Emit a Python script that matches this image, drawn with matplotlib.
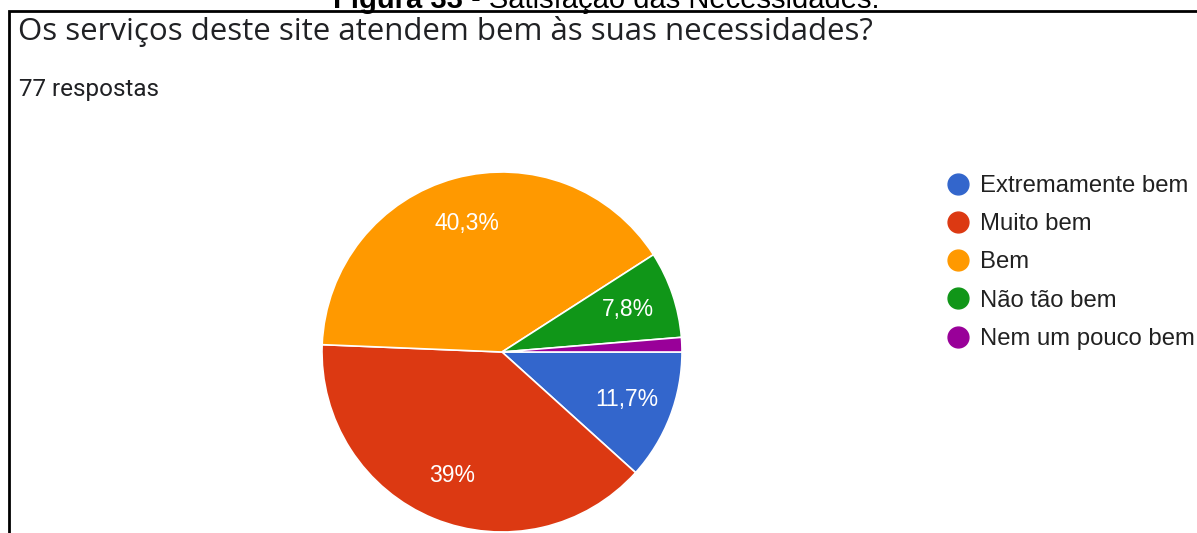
import matplotlib
matplotlib.use("Agg")
import matplotlib.pyplot as plt
from matplotlib.lines import Line2D
from matplotlib.patches import Rectangle

# data
categories = ["Extremamente bem", "Muito bem", "Bem", "Não tão bem", "Nem um pouco bem"]
counts = [9, 30, 31, 6, 1]
colors = ["#3366cc", "#dc3912", "#ff9900", "#109618", "#990099"]
title = "Os serviços deste site atendem bem às suas necessidades?"
subtitle = "77 respostas"
caption_bold = "Figura 33"
caption_rest = " - Satisfação das Necessidades."

W, H = 1197, 533
fig = plt.figure(figsize=(W / 100, H / 100), dpi=100)
fig.patch.set_facecolor("white")


def fmt_pct(p):
    if p < 5:
        return ""
    s = f"{p:.1f}".rstrip("0").rstrip(".")
    return s.replace(".", ",") + "%"


# pie axes: centre (502, 352) px, radius 180 px
cx, cy, r = 502, 352, 180
ax = fig.add_axes([(cx - r) / W, (H - cy - r) / H, 2 * r / W, 2 * r / H])
wedges, texts, autotexts = ax.pie(
    counts, colors=colors, startangle=0, counterclock=False,
    autopct=fmt_pct, pctdistance=0.74, radius=1.0,
    wedgeprops=dict(edgecolor="white", linewidth=1.2),
    textprops=dict(color="white", fontsize=16.5, family="Liberation Sans"))
ax.set_xlim(-1, 1)
ax.set_ylim(-1, 1)
ax.set_aspect("equal")
ax.axis("off")

# legend
handles = [Line2D([], [], marker="o", linestyle="", markersize=15,
                  markerfacecolor=c, markeredgecolor=c) for c in colors]
fig.legend(handles, categories, loc="upper left",
           bbox_to_anchor=(945 / W, 1 - 175 / H), frameon=False,
           prop=dict(family="Liberation Sans", size=17.2),
           labelspacing=0.68, handletextpad=0.35, handlelength=1.1,
           borderaxespad=0, borderpad=0, labelcolor="#212121")

# titles
fig.text(18 / W, 1 - 40 / H, title, fontsize=22.5, color="#202124",
         family="Open Sans", va="baseline", ha="left")
fig.text(19 / W, 1 - 96 / H, subtitle, fontsize=17.5, color="#202124",
         family="Roboto", va="baseline", ha="left")

# cut-off figure caption at the top
cap = fig.text(333 / W, 1 - 8.5 / H, caption_bold, fontsize=21, weight="bold",
               family="Liberation Sans", va="baseline", ha="left")
fig.canvas.draw()
bb = cap.get_window_extent()
fig.text(bb.x1 / W, 1 - 8.5 / H, caption_rest, fontsize=21,
         family="Liberation Sans", va="baseline", ha="left")

# frame box
fig.add_artist(Rectangle((8.5 / W, -0.1), 1.2, 1 - 11.5 / H + 0.1,
                         transform=fig.transFigure, fill=False,
                         edgecolor="black", linewidth=2.0, zorder=5))

fig.savefig("out.png", dpi=100)
